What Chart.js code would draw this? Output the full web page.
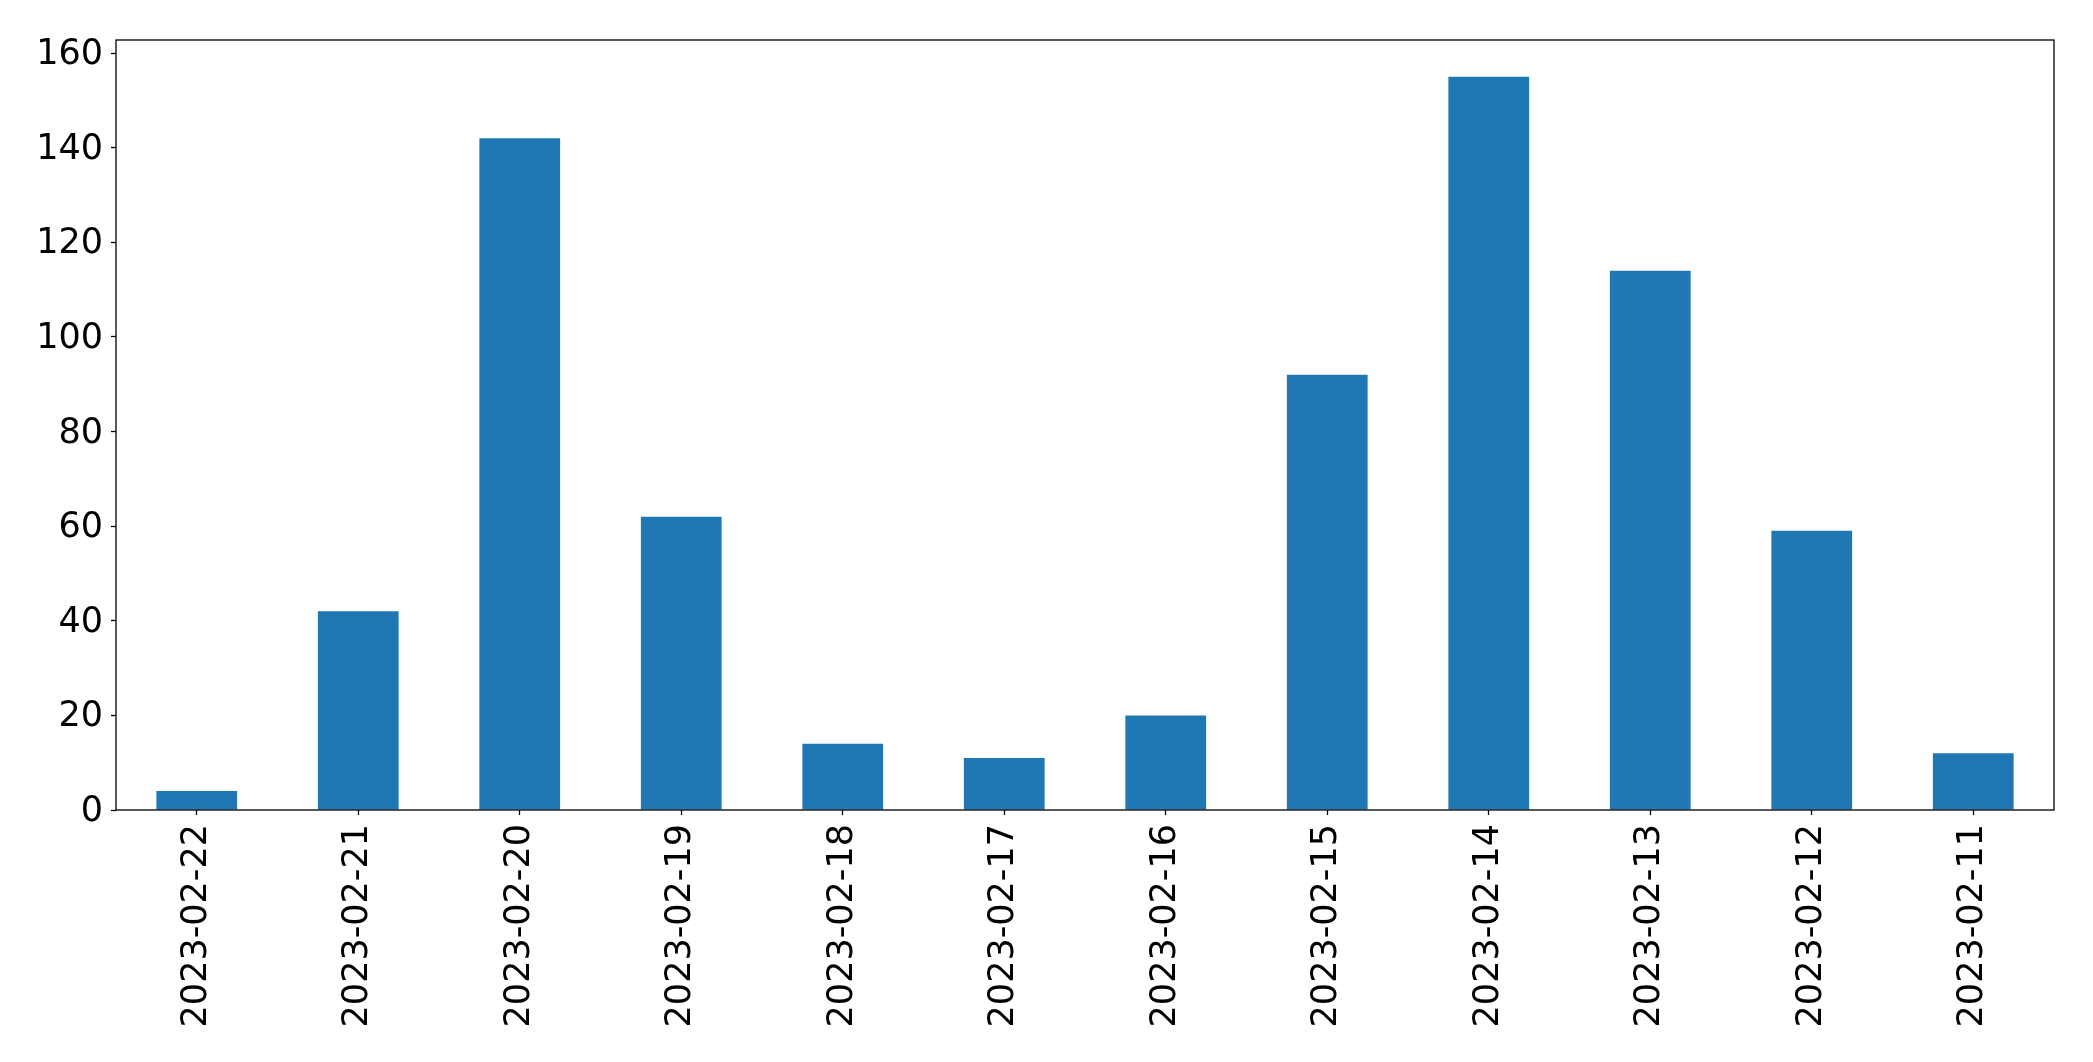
<!DOCTYPE html>
<html>
<head>
    <title>Daily counts</title>
    <script src="https://cdn.jsdelivr.net/npm/chart.js"></script>
    <style>
        html, body {
            margin: 0;
            padding: 0;
            background: #fff;
        }
        #wrap {
            width: 2093px;
            height: 1062px;
        }
    </style>
</head>
<body>
    <div id="wrap">
        <canvas id="countChart" width="2093" height="1062"></canvas>
    </div>

    <script>
const dates = ['2023-02-22', '2023-02-21', '2023-02-20', '2023-02-19', '2023-02-18', '2023-02-17',
               '2023-02-16', '2023-02-15', '2023-02-14', '2023-02-13', '2023-02-12', '2023-02-11'];
const counts = [4, 42, 142, 62, 14, 11, 20, 92, 155, 114, 59, 12];
const yTicks = [0, 20, 40, 60, 80, 100, 120, 140, 160];

const tickFont = { family: 'DejaVu Sans', size: 35 };

// matplotlib-style box round the plot area
const frameBox = {
    id: 'frameBox',
    afterDraw(chart) {
        const a = chart.chartArea;
        const ctx = chart.ctx;
        ctx.save();
        ctx.strokeStyle = '#000';
        ctx.lineWidth = 1.3;
        ctx.strokeRect(a.left, a.top, a.right - a.left, a.bottom - a.top);
        ctx.restore();
    }
};

const ctx = document.getElementById('countChart').getContext('2d');
new Chart(ctx, {
    type: 'bar',
    data: {
        labels: dates,
        datasets: [{
            data: counts,
            backgroundColor: '#1f77b4',
            borderWidth: 0,
            barPercentage: 0.5,
            categoryPercentage: 1.0
        }]
    },
    options: {
        responsive: false,
        animation: false,
        layout: {
            padding: { left: 0, top: 40, right: 39, bottom: 0 }
        },
        plugins: {
            legend: { display: false },
            tooltip: { enabled: false }
        },
        scales: {
            x: {
                offset: true,
                grid: {
                    offset: false,
                    drawOnChartArea: false,
                    drawTicks: true,
                    tickLength: 5,
                    tickWidth: 1.3,
                    color: '#000'
                },
                border: { display: false },
                ticks: {
                    color: '#000',
                    font: tickFont,
                    minRotation: 90,
                    maxRotation: 90,
                    autoSkip: false,
                    padding: 9
                },
                afterFit(scale) {
                    scale.height = 252;
                }
            },
            y: {
                min: 0,
                max: 162.75,
                grid: {
                    drawOnChartArea: false,
                    drawTicks: true,
                    tickLength: 5,
                    tickWidth: 1.3,
                    color: '#000'
                },
                border: { display: false },
                afterBuildTicks(scale) {
                    scale.ticks = yTicks.map(v => ({ value: v }));
                },
                ticks: {
                    color: '#000',
                    font: tickFont,
                    padding: 8,
                    labelOffset: 2
                },
                afterFit(scale) {
                    scale.width = 116;
                }
            }
        }
    },
    plugins: [frameBox]
});
</script>
</body>
</html>
